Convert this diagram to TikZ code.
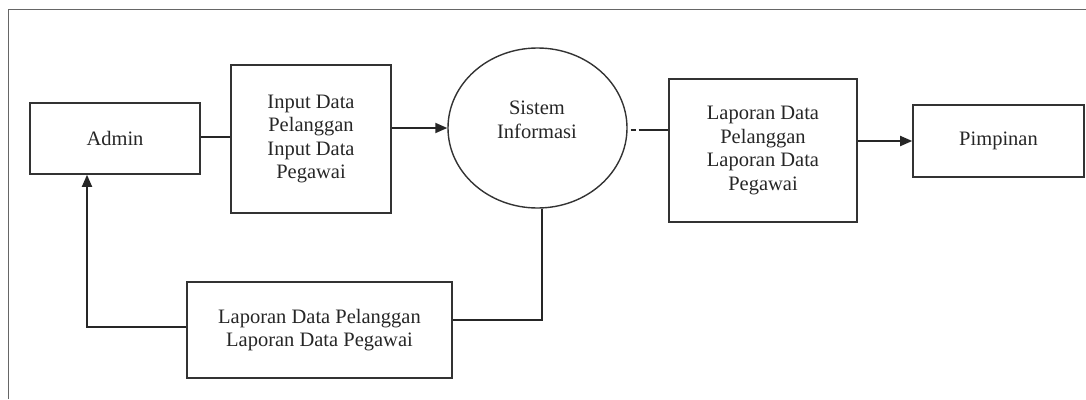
\documentclass[tikz,border=0pt]{standalone}
\usepackage{fontspec}
\setmainfont{Liberation Serif}
\usetikzlibrary{arrows.meta,shapes.geometric,calc}
\begin{document}
\begin{tikzpicture}[x=1pt,y=-1pt,
  every node/.style={font=\fontsize{20.5}{23.5}\selectfont, text=black!85, align=center},
  entity/.style={draw=black!80, line width=1.6pt, rectangle, inner sep=0pt},
  process/.style={draw=black!80, line width=1.4pt, ellipse, inner sep=0pt},
  link/.style={draw=black!85, line width=1.8pt},
  flow/.style={link, -{Triangle[length=12pt,width=10pt]}}]
  % canvas and frame
  \useasboundingbox (0,0) rectangle (1086,399);
  \draw[black!60, line width=1pt] (8,399) -- (8,9) -- (1086,9);

  % external entities and data stores
  \node[entity, minimum width=170pt, minimum height=71pt] (admin) at (115,138.5) {Admin};
  \node[entity, minimum width=160pt, minimum height=148pt] (input) at (311,139)
    {Input Data\\Pelanggan\\Input Data\\Pegawai};
  \node[process, minimum width=179pt, minimum height=160pt] (sys) at (537.5,128) {};
  \node (systext) at (537,120) {Sistem\\Informasi};
  \node[entity, minimum width=188pt, minimum height=143pt] (lapr) at (763,150.5)
    {Laporan Data\\Pelanggan\\Laporan Data\\Pegawai};
  \node[entity, minimum width=171pt, minimum height=72pt] (pim) at (998.5,141) {Pimpinan};
  \node[entity, minimum width=265pt, minimum height=96pt] (lapb) at (319.5,330)
    {Laporan Data Pelanggan\\Laporan Data Pegawai};

  % helper points for the flows
  \coordinate (adminr) at ([yshift=1.5pt]admin.east);
  \coordinate (sysout) at ([xshift=4.5pt]sys.south);
  \coordinate (lapbin) at ([yshift=10pt]lapb.east);
  \coordinate (lapbout) at ([yshift=3pt]lapb.west);
  \coordinate (adminin) at ([xshift=-28pt]admin.south);
  \coordinate (sysr) at ([yshift=-2pt]sys.east);

  % flows
  \draw[link] (adminr) -- (adminr -| input.west);
  \draw[flow] (input.east |- sys.west) -- (sys.west);
  \draw[link] ([xshift=3pt]sysr) -- ([xshift=8pt]sysr);
  \draw[link] ([xshift=11pt]sysr) -- (sysr -| lapr.west);
  \draw[flow] (lapr.east |- pim.west) -- (pim.west);
  \draw[link] (sysout) -- (sysout |- lapbin) -- (lapbin);
  \draw[flow] (lapbout) -| (adminin);
\end{tikzpicture}
\end{document}
